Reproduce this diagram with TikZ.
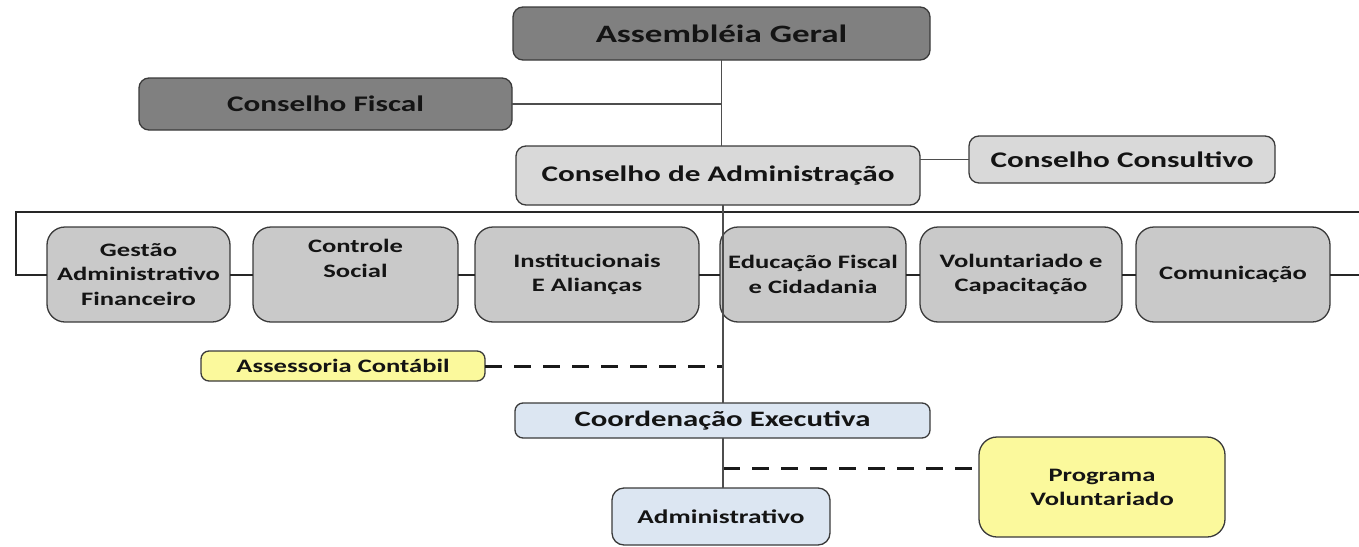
\documentclass[tikz,border=0pt]{standalone}
\usepackage{fontspec}
\setmainfont{Carlito}[FakeStretch=1.4]
\usetikzlibrary{positioning}

\definecolor{boardgray}{HTML}{808080}
\definecolor{councilgray}{HTML}{D9D9D9}
\definecolor{unitgray}{HTML}{C9C9C9}
\definecolor{noteyellow}{HTML}{FBF99C}
\definecolor{execblue}{HTML}{DCE6F2}
\definecolor{edge}{HTML}{3A3A3A}

\tikzset{
  box/.style={draw=edge, line width=1.3pt, rounded corners=10pt, inner sep=0pt, outer sep=0pt,
    align=center, text=black!92, font=\bfseries\fontsize{22.3}{27}\selectfont},
  boardbox/.style={box, fill=boardgray},
  councilbox/.style={box, fill=councilgray},
  unitbox/.style={box, fill=unitgray, rounded corners=18pt, minimum height=95pt,
    font=\bfseries\fontsize{19}{24.5}\selectfont},
  notebox/.style={box, fill=noteyellow, font=\bfseries\fontsize{19}{24}\selectfont},
  execbox/.style={box, fill=execblue},
  link/.style={draw=edge!90, line width=1.2pt},
  buslink/.style={draw=black!85, line width=2pt},
  advice/.style={draw=black!90, line width=3pt, dash pattern=on 17pt off 12pt}
}

\begin{document}
\begin{tikzpicture}[x=1pt,y=-1pt]
\useasboundingbox (0,0) rectangle (1359,546);

\coordinate (busL) at (16,212);
\coordinate (busR) at (1359,212);

\node[boardbox, minimum width=417pt, minimum height=53pt,
  font=\bfseries\fontsize{25}{30}\selectfont] (assembleia) at (721.5,33.5) {Assembléia Geral};
\node[boardbox, minimum width=373pt, minimum height=52pt] (fiscal) at (325.5,104) {Conselho Fiscal};
\node[councilbox, minimum width=404pt, minimum height=59pt] (admin) at (718,175.5) {Conselho de Administração};
\node[councilbox, minimum width=306pt, minimum height=47pt] (consultivo) at (1122,159.5) {Conselho Consultivo};

\node[unitbox, minimum width=183pt] (gestao) at (138.5,274.5) {Gestão\\Administrativo\\Financeiro};
\node[unitbox, minimum width=205pt, right=23pt of gestao] (controle) {Controle\\Social\\\strut};
\node[unitbox, minimum width=224pt, right=17pt of controle] (instit) {Institucionais\\E Alianças};
\node[unitbox, minimum width=186pt, right=21pt of instit] (educacao) {Educação Fiscal\\e Cidadania};
\node[unitbox, minimum width=202pt, right=14pt of educacao] (volunt) {Voluntariado e\\Capacitação};
\node[unitbox, minimum width=194pt, right=14pt of volunt] (comunic) {Comunicação};

\node[notebox, minimum width=284pt, minimum height=30pt, rounded corners=8pt] (assessoria) at (343,366) {Assessoria Contábil};
\node[execbox, minimum width=415pt, minimum height=35pt, rounded corners=8pt,
  font=\bfseries\fontsize{22}{26}\selectfont] (coord) at (722.5,420.5) {Coordenação Executiva};
\node[execbox, minimum width=218pt, minimum height=57pt, rounded corners=12pt,
  font=\bfseries\fontsize{19.5}{24}\selectfont] (admv) at (721,516.5) {Administrativo};
\node[notebox, minimum width=246pt, minimum height=100pt, rounded corners=18pt] (programa) at (1102,487) {Programa\\Voluntariado};

\coordinate (volJ) at (723,468);

\draw[link] (fiscal.east) -- (fiscal.east -| assembleia.south);
\draw[link] (consultivo.west) -- (consultivo.west -| admin.east);
\draw[buslink] (gestao.west) -| (busL) -- (busR);
\draw[buslink] (comunic.east) -- (comunic.east -| busR);
\foreach \a/\b in {gestao/controle,controle/instit,instit/educacao,educacao/volunt,volunt/comunic}
  \draw[buslink] (\a.east) -- (\b.west);
\draw[advice] (assessoria.east) -- (assessoria.east -| volJ);
\draw[advice] (volJ) -- (volJ -| programa.west);

\draw[link] (assembleia.south) -- (assembleia.south |- admin.north);
\draw[link] (admin.south -| volJ) -- (coord.north -| volJ);
\draw[link] (coord.south -| volJ) -- (admv.north -| volJ);
\end{tikzpicture}
\end{document}
